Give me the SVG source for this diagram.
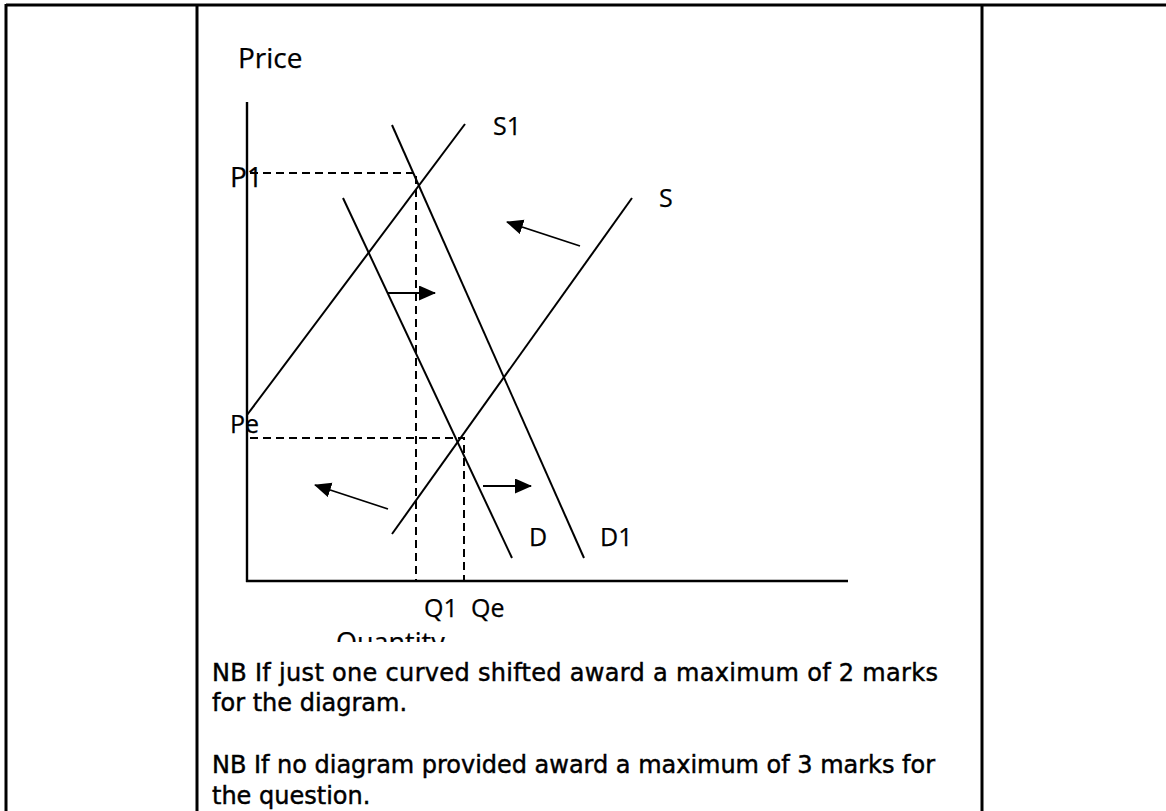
<svg xmlns="http://www.w3.org/2000/svg" width="1166" height="811" viewBox="0 0 1166 811">
<style>
.frame{stroke:#000;stroke-width:3;fill:none}
.axis{stroke:#000;stroke-width:2.4;fill:none}
.curve{stroke:#000;stroke-width:2;fill:none}
.dash{stroke:#000;stroke-width:2;fill:none;stroke-dasharray:8 5}
.arrow{stroke:#000;stroke-width:1.8;fill:none;marker-end:url(#head)}
.lbl{font-family:"Open Sans","DejaVu Sans",sans-serif;fill:#000;stroke:#000;stroke-width:0.25}
.note{font-family:"DejaVu Sans","Verdana",sans-serif;font-size:24px;fill:#000;stroke:#000;stroke-width:0.45}
</style>
<defs>
<marker id="head" markerUnits="userSpaceOnUse" markerWidth="18" markerHeight="16" refX="16" refY="7.5" orient="auto">
<path d="M0,0 L17,7.5 L0,15 Z" fill="#000"/>
</marker>
<clipPath id="qclip"><rect x="300" y="600" width="200" height="42"/></clipPath>
</defs>
<rect width="1166" height="811" fill="#fff"/>
<g id="table">
<line class="frame" x1="6" y1="5" x2="1166" y2="5"/>
<line class="frame" x1="6" y1="4" x2="6" y2="811"/>
<line class="frame" x1="197" y1="5" x2="197" y2="811"/>
<line class="frame" x1="982" y1="5" x2="982" y2="811"/>
</g>
<g id="axes">
<line class="axis" x1="247" y1="102" x2="247" y2="582"/>
<line class="axis" x1="246" y1="581" x2="848" y2="581"/>
<text class="lbl" x="238" y="68" font-size="28">Price</text>
<g clip-path="url(#qclip)"><text class="lbl" x="336" y="652" font-size="27">Quantity</text></g>
</g>
<g id="guides">
<polyline class="dash" points="250,173 416,173 416,581"/>
<polyline class="dash" points="250,438 464,438 464,581"/>
<text class="lbl" x="230" y="187" font-size="28">P1</text>
<text class="lbl" x="230" y="433" font-size="25">Pe</text>
<text class="lbl" x="424" y="617" font-size="25">Q1</text>
<text class="lbl" x="471" y="617" font-size="25">Qe</text>
</g>
<g id="curve-S1">
<line class="curve" x1="247" y1="415" x2="465" y2="124"/>
<text class="lbl" x="493" y="135" font-size="25">S1</text>
</g>
<g id="curve-S">
<line class="curve" x1="392" y1="534" x2="632" y2="198"/>
<text class="lbl" x="659" y="207" font-size="25">S</text>
</g>
<g id="curve-D">
<line class="curve" x1="343" y1="198" x2="512" y2="558"/>
<text class="lbl" x="529" y="546" font-size="25">D</text>
</g>
<g id="curve-D1">
<line class="curve" x1="392" y1="125" x2="584" y2="558"/>
<text class="lbl" x="600" y="546" font-size="25">D1</text>
</g>
<g id="connectors">
<line class="arrow" x1="387" y1="293" x2="435" y2="293"/>
<line class="arrow" x1="483" y1="486" x2="531" y2="486"/>
<line class="arrow" x1="580" y1="246" x2="507" y2="222"/>
<line class="arrow" x1="388" y1="509" x2="315" y2="485"/>
</g>
<g id="notes">
<text class="note" x="212" y="681" textLength="726">NB If just one curved shifted award a maximum of 2 marks</text>
<text class="note" x="212" y="711">for the diagram.</text>
<text class="note" x="212" y="773" textLength="723">NB If no diagram provided award a maximum of 3 marks for</text>
<text class="note" x="212" y="804">the question.</text>
</g>
</svg>
